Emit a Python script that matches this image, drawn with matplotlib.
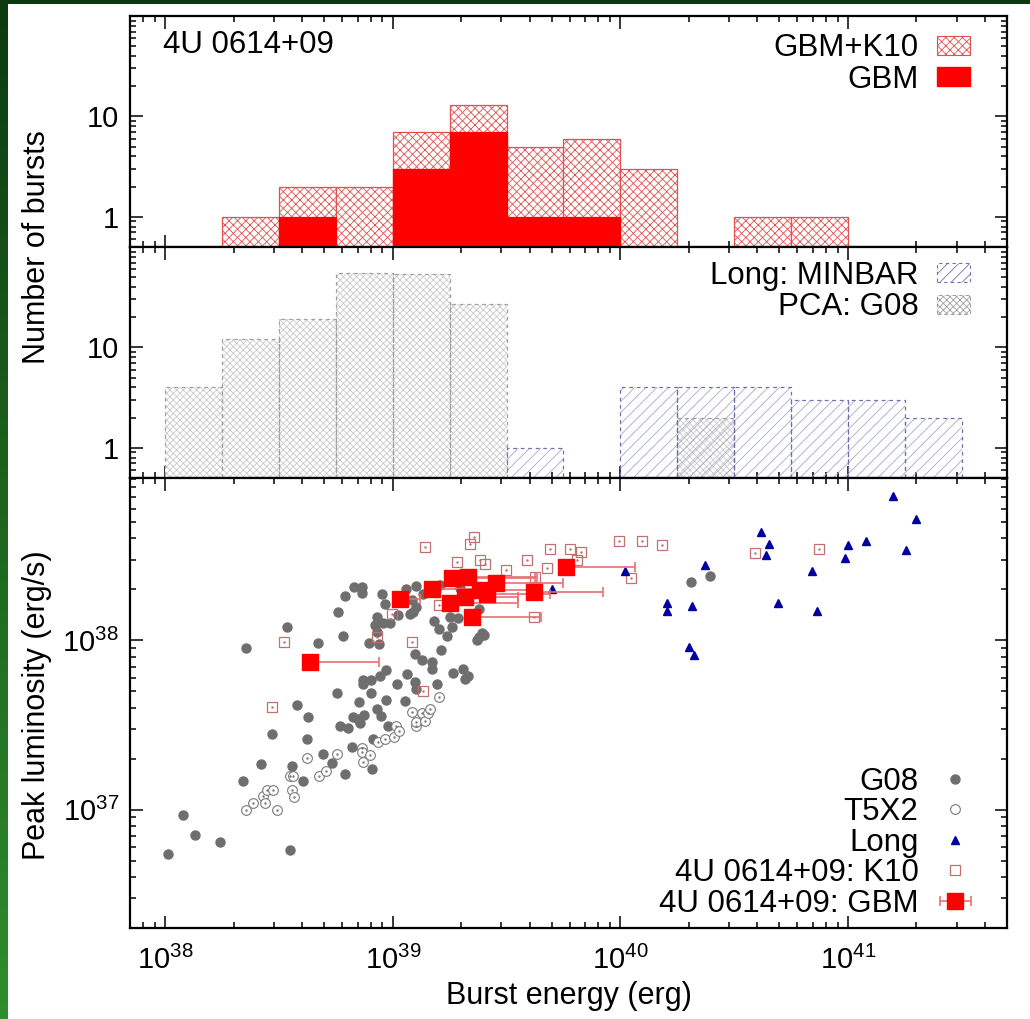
import numpy as np
import matplotlib
matplotlib.use("Agg")
import matplotlib.pyplot as plt
from matplotlib.patches import Patch, Rectangle
from matplotlib.ticker import FixedLocator, FixedFormatter, NullFormatter

plt.rcParams["font.family"] = ["Liberation Sans", "DejaVu Sans"]
plt.rcParams["mathtext.fontset"] = "custom"
plt.rcParams["mathtext.rm"] = "Liberation Sans"
plt.rcParams["hatch.linewidth"] = 0.6

# ---- histograms: bins of 0.25 dex in burst energy (log10 erg) ----
bin_lo = [38.00, 38.25, 38.50, 38.75, 39.00, 39.25, 39.50,
          39.75, 40.00, 40.25, 40.50, 40.75, 41.00, 41.25]
bin_w = 0.25
n_gbm_k10 = [0, 1, 2, 2, 7, 13, 5, 6, 3, 0, 1, 1, 0, 0]
n_gbm     = [0, 0, 1, 0, 3, 7, 1, 1, 0, 0, 0, 0, 0, 0]
n_pca_g08 = [4, 12, 19, 55, 54, 27, 0, 0, 0, 2, 0, 0, 0, 0]
n_long    = [0, 0, 0, 0, 0, 0, 1, 0, 4, 4, 4, 3, 3, 2]

# ---- scatter: (burst energy [erg], peak luminosity [erg/s]) ----
g08 = [(1.03e38, 5.5e36), (1.20e38, 9.3e36), (1.35e38, 7.1e36), (1.74e38, 6.4e36),
       (3.52e38, 5.8e36), (2.19e38, 1.47e37), (2.64e38, 1.85e37), (2.94e38, 2.79e37),
       (3.62e38, 1.80e37), (4.01e38, 1.47e37), (3.79e38, 4.17e37), (4.26e38, 3.55e37),
       (4.19e38, 2.62e37), (4.91e38, 2.14e37), (5.40e38, 1.89e37), (6.15e38, 1.63e37),
       (6.65e38, 2.35e37), (5.87e38, 3.11e37), (6.38e38, 3.03e37), (6.71e38, 3.52e37),
       (7.06e38, 3.44e37), (7.18e38, 3.24e37), (7.50e38, 3.63e37), (7.13e38, 4.32e37),
       (8.51e38, 3.94e37), (8.86e38, 3.57e37), (8.17e38, 2.60e37), (8.11e38, 1.74e37),
       (9.57e38, 3.14e37), (9.31e38, 4.42e37), (1.13e39, 4.36e37), (2.26e38, 9.0e37),
       (3.42e38, 1.20e38), (4.71e38, 9.7e37), (5.77e38, 1.48e38), (6.17e38, 1.83e38),
       (6.78e38, 2.07e38), (7.35e38, 2.07e38), (7.35e38, 1.91e38), (6.03e38, 1.06e38),
       (5.68e38, 4.91e37), (7.43e38, 5.80e37), (7.43e38, 5.49e37), (8.00e38, 5.80e37),
       (8.00e38, 4.91e37), (8.80e38, 6.12e37), (9.35e38, 6.71e37), (7.89e38, 9.7e37),
       (8.36e38, 1.24e38), (8.51e38, 1.37e38), (8.51e38, 1.12e38), (8.73e38, 9.55e37),
       (9.10e38, 1.26e38), (9.73e38, 1.26e38), (8.95e38, 1.89e38), (9.25e38, 1.65e38),
       (1.05e39, 1.41e38), (1.14e39, 2.02e38), (1.19e39, 1.44e38), (1.21e39, 1.72e38),
       (1.23e39, 1.47e38), (1.27e39, 2.09e38), (1.27e39, 1.57e38), (1.04e39, 5.49e37),
       (1.15e39, 6.35e37), (1.25e39, 5.67e37), (1.26e39, 5.18e37), (1.25e39, 8.34e37),
       (1.34e39, 7.61e37), (1.48e39, 7.44e37), (1.48e39, 6.80e37), (1.56e39, 5.49e37),
       (1.63e39, 8.73e37), (1.73e39, 1.06e38), (1.52e39, 1.31e38), (1.59e39, 1.17e38),
       (1.82e39, 1.20e38), (1.79e39, 1.37e38), (1.94e39, 1.36e38), (1.83e39, 6.41e37),
       (2.04e39, 6.80e37), (2.08e39, 5.94e37), (2.15e39, 6.12e37), (2.34e39, 1.00e38),
       (2.39e39, 1.05e38), (2.46e39, 1.10e38), (2.52e39, 1.08e38), (2.38e39, 1.54e38),
       (1.36e39, 1.89e38), (1.61e39, 2.12e38), (1.98e39, 2.03e38), (2.04e40, 2.21e38),
       (2.47e40, 2.40e38)]

t5x2 = [(2.27e38, 9.96e36), (2.43e38, 1.10e37), (2.69e38, 1.20e37), (2.75e38, 1.10e37),
        (2.80e38, 1.31e37), (2.97e38, 1.31e37), (3.11e38, 1.00e37), (3.52e38, 1.59e37),
        (3.66e38, 1.59e37), (3.60e38, 1.31e37), (3.69e38, 1.19e37), (4.19e38, 2.01e37),
        (4.75e38, 1.59e37), (5.08e38, 1.70e37), (5.71e38, 2.12e37), (7.35e38, 2.32e37),
        (7.35e38, 2.18e37), (7.43e38, 1.91e37), (7.95e38, 2.11e37), (8.65e38, 2.50e37),
        (9.25e38, 2.60e37), (1.01e39, 2.70e37), (1.03e39, 3.11e37), (1.06e39, 2.90e37),
        (1.22e39, 3.80e37), (1.26e39, 3.10e37), (1.27e39, 3.29e37), (1.34e39, 3.73e37),
        (1.38e39, 3.32e37), (1.43e39, 3.73e37), (1.46e39, 3.94e37), (1.60e39, 4.60e37)]

k10 = [(1.39e39, 3.56e38), (2.28e39, 4.08e38), (2.18e39, 3.73e38), (1.92e39, 2.91e38),
       (2.42e39, 2.97e38), (2.54e39, 2.82e38), (3.15e39, 2.60e38), (3.88e39, 2.97e38),
       (4.75e39, 2.69e38), (4.91e39, 3.45e38), (6.01e39, 3.45e38), (6.70e39, 3.33e38),
       (6.47e39, 3.00e38), (9.86e39, 3.87e38), (1.24e40, 3.87e38), (1.52e40, 3.65e38),
       (1.11e40, 2.34e38), (3.90e40, 3.29e38), (7.47e40, 3.45e38), (4.19e39, 1.37e38),
       (3.31e38, 9.77e37), (8.51e38, 1.04e38), (9.90e38, 1.44e38), (1.22e39, 9.77e37),
       (1.36e39, 5.01e37), (2.94e38, 4.03e37), (1.59e39, 1.61e38), (4.22e39, 2.36e38)]

long_b = [(1.57e41, 7.14e38), (2.00e41, 5.20e38), (4.13e40, 4.37e38), (4.51e40, 3.73e38),
          (4.36e40, 3.18e38), (1.00e41, 3.68e38), (1.20e41, 3.87e38), (9.69e40, 3.07e38),
          (1.80e41, 3.41e38), (6.96e40, 2.56e38), (2.35e40, 2.78e38), (1.05e40, 2.56e38),
          (1.60e40, 1.66e38), (1.61e40, 1.49e38), (2.06e40, 1.60e38), (4.91e40, 1.66e38),
          (7.32e40, 1.49e38), (2.00e40, 9.13e37), (2.11e40, 8.15e37), (4.99e39, 2.02e38)]

# GBM bursts: energy, peak luminosity, upper end of energy range
gbm_E    = [4.33e38, 1.07e39, 1.48e39, 1.82e39, 2.15e39, 1.79e39, 2.08e39,
            2.42e39, 2.59e39, 2.84e39, 2.22e39, 4.19e39, 5.77e39]
gbm_L    = [7.44e37, 1.75e38, 2.02e38, 2.32e38, 2.37e38, 1.66e38, 1.80e38,
            1.98e38, 1.89e38, 2.17e38, 1.37e38, 1.93e38, 2.71e38]
gbm_Ehi  = [8.73e38, 1.32e39, 2.30e39, 4.22e39, 4.30e39, 3.55e39, 3.55e39,
            4.43e39, 4.91e39, 5.60e39, 4.48e39, 8.39e39, 1.16e40]

# colours
RED = "#ff0000"
HATCH_RED = "#e05050"
GREY = "#6e6e6e"
OPEN_GREY = "#7a7a7a"
K10_COL = "#c07070"
BLUE = "#0000a0"
PCA_COL = "#a0a0a0"
PCA_HATCH = "#cacaca"
LONG_COL = "#7070b0"
LONG_HATCH = "#a8a8d0"
FS = 22.5      # legend / annotation text
TFS = 21       # tick labels

fig = plt.figure(figsize=(10.30, 10.19), dpi=100)
fig.patch.set_facecolor("white")

# green frame of the slide
grad = np.linspace(0, 1, 256).reshape(-1, 1)
gax = fig.add_axes([0, 0, 8 / 1030, 1])
gax.imshow(grad, aspect="auto", cmap=matplotlib.colors.LinearSegmentedColormap.from_list(
    "g", ["#0c3a10", "#2f8d2c"]), extent=[0, 1, 0, 1], origin="upper")
gax.axis("off")
fig.patches.append(Rectangle((0, 1 - 4 / 1019), 1, 4 / 1019, transform=fig.transFigure,
                             facecolor="#0b3a0e", edgecolor="none", zorder=5))

L0, W0 = 130 / 1030, 877 / 1030
ax1 = fig.add_axes([L0, 1 - 247 / 1019, W0, 231 / 1019])
ax2 = fig.add_axes([L0, 1 - 478 / 1019, W0, 231 / 1019])
ax3 = fig.add_axes([L0, 1 - 928 / 1019, W0, 450 / 1019])

XLIM = (7.0e37, 5.0e41)


def bars(ax, counts, **kw):
    lo = np.array(bin_lo)
    c = np.array(counts, dtype=float)
    m = c > 0
    left = 10 ** lo[m]
    right = 10 ** (lo[m] + bin_w)
    ax.bar(left, c[m] - 0.1, width=right - left, bottom=0.1, align="edge", **kw)


def style(ax):
    ax.set_xscale("log")
    ax.set_xlim(*XLIM)
    ax.tick_params(which="both", direction="in", top=True, right=True,
                   labelsize=TFS, width=1.1)
    ax.tick_params(axis="y", pad=8)
    ax.tick_params(axis="x", pad=13)
    ax.tick_params(which="major", length=9)
    ax.tick_params(which="minor", length=4.5)
    for s in ax.spines.values():
        s.set_linewidth(1.6)


# --- top: GBM / K10 histogram ---
style(ax1)
bars(ax1, n_gbm_k10, facecolor="white", edgecolor=HATCH_RED, hatch="xxxx", linewidth=0.9, zorder=2)
bars(ax1, n_gbm, facecolor=RED, edgecolor=RED, linewidth=0.9, zorder=3)
ax1.text(0.038, 0.874, "4U 0614+09", transform=ax1.transAxes, fontsize=FS,
         ha="left", va="center")

# --- middle: PCA / MINBAR histogram ---
style(ax2)
bars(ax2, n_pca_g08, facecolor="white", edgecolor=PCA_HATCH, hatch="xxxxx", linewidth=0, zorder=2)
bars(ax2, n_pca_g08, fill=False, edgecolor=PCA_COL, linestyle=(0, (3, 3)), linewidth=0.9, zorder=3)
bars(ax2, n_long, fill=False, edgecolor=LONG_HATCH, hatch="///", linewidth=0, zorder=2)
bars(ax2, n_long, fill=False, edgecolor=LONG_COL, linestyle=(0, (3, 3)), linewidth=0.9, zorder=3)

for ax in (ax1, ax2):
    ax.set_yscale("log")
    ax.set_ylim(0.5, 100)
    ax.yaxis.set_major_locator(FixedLocator([1, 10]))
    ax.yaxis.set_major_formatter(FixedFormatter(["1", "10"]))
    ax.yaxis.set_minor_formatter(NullFormatter())
    ax.tick_params(labelbottom=False)

# --- bottom: peak luminosity vs burst energy ---
style(ax3)
ax3.set_yscale("log")
ax3.set_ylim(2.0e36, 9.1e38)
ax3.set_xlim(*XLIM)

gx, gy = zip(*g08)
ax3.plot(gx, gy, "o", ms=6.5, mfc=GREY, mec=GREY, ls="none", zorder=2, label="G08")
tx, ty = zip(*t5x2)
ax3.plot(tx, ty, "o", ms=7, mfc="white", mec=OPEN_GREY, mew=0.8, ls="none", zorder=2,
         label="T5X2")
ax3.plot(tx, ty, ".", ms=1.5, color=OPEN_GREY, ls="none", zorder=2)
lx, ly = zip(*long_b)
ax3.plot(lx, ly, "^", ms=6, mfc=BLUE, mec=BLUE, ls="none", zorder=4, label="Long")
kx, ky = zip(*k10)
ax3.plot(kx, ky, "s", ms=7, mfc="none", mec=K10_COL, mew=0.9, ls="none", zorder=3,
         label="4U 0614+09: K10")
ax3.plot(kx, ky, ".", ms=1.5, color=K10_COL, ls="none", zorder=3)

gE = np.array(gbm_E)
xerr = [np.zeros_like(gE), np.array(gbm_Ehi) - gE]
ax3.errorbar(gE, gbm_L, xerr=xerr, fmt="s", ms=11.5, mfc=RED, mec=RED, ecolor="#e87070",
             elinewidth=1.2, capsize=3.5, capthick=1.2, zorder=5, label="4U 0614+09: GBM")

ax3.set_xlabel("Burst energy (erg)", fontsize=22, labelpad=4)

# legends
h_tot = Patch(facecolor="white", edgecolor=HATCH_RED, hatch="xxxx", linewidth=0.8)
h_gbm = Patch(facecolor=RED, edgecolor=RED)
ax1.legend([h_tot, h_gbm], ["GBM+K10", "GBM"], loc="upper right",
           bbox_to_anchor=(0.958, 0.925), markerfirst=False, frameon=False, fontsize=FS,
           handlelength=1.05, handleheight=0.55, handletextpad=0.6, labelspacing=0.05,
           borderpad=0, borderaxespad=0)
h_long = Patch(facecolor="white", edgecolor=LONG_COL, hatch="///", linestyle=(0, (3, 3)), linewidth=0.8)
h_pca = Patch(facecolor="white", edgecolor=PCA_COL, hatch="xxxxx", linestyle=(0, (3, 3)), linewidth=0.8)
ax2.legend([h_long, h_pca], ["Long: MINBAR", "PCA: G08"], loc="upper right",
           bbox_to_anchor=(0.958, 0.94), markerfirst=False, frameon=False, fontsize=FS,
           handlelength=1.05, handleheight=0.55, handletextpad=0.6, labelspacing=0.05,
           borderpad=0, borderaxespad=0)
ax3.legend(loc="lower right", bbox_to_anchor=(0.958, 0.02), markerfirst=False,
           frameon=False, fontsize=FS, handlelength=0.95, handletextpad=0.7,
           labelspacing=0.02, borderpad=0, borderaxespad=0, numpoints=1)

fig.text(37 / 1030, 1 - 247 / 1019, "Number of bursts", rotation=90, fontsize=22,
         ha="center", va="center")
fig.text(37 / 1030, 1 - 705 / 1019, "Peak luminosity (erg/s)", rotation=90, fontsize=22,
         ha="center", va="center")

fig.savefig("out.png", dpi=100, facecolor="white")
